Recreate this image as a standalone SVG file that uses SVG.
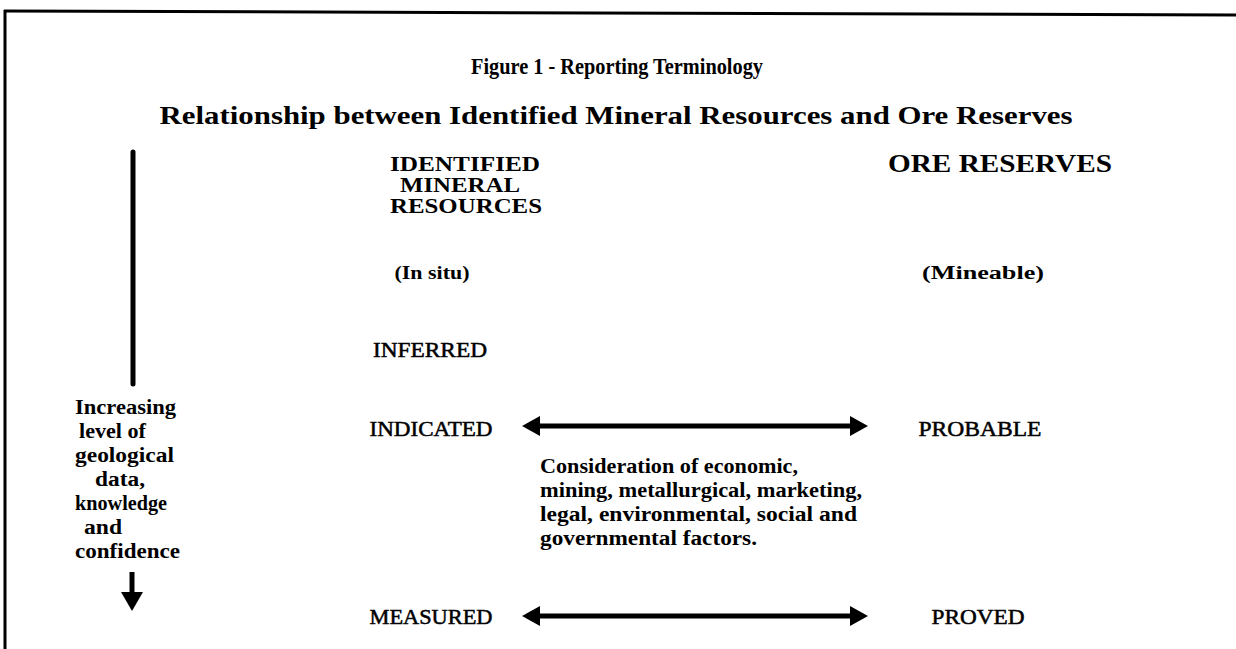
<svg xmlns="http://www.w3.org/2000/svg" width="1236" height="649" viewBox="0 0 1236 649">
<defs>
<style>
.hd{font-family:"Liberation Serif","Times New Roman",serif;font-weight:bold;fill:#000}
.t1{font-size:24px}
.t2{font-size:25px}
.col{font-size:22px}
.ore{font-size:25px}
.sub{font-size:18px}
.lvl{font-family:"Liberation Serif","Times New Roman",serif;font-size:21px;fill:#000;stroke:#000;stroke-width:0.5}
.note{font-family:"Liberation Serif","Times New Roman",serif;font-weight:bold;font-size:20px;fill:#000}
.conn{stroke:#000;stroke-width:5;fill:none}
</style>
<marker id="ah" viewBox="0 0 18 20" refX="10" refY="10" markerWidth="18" markerHeight="20" markerUnits="userSpaceOnUse" orient="auto-start-reverse">
<path d="M0,0 L18,10 L0,20 Z" fill="#000"/>
</marker>
<marker id="ahd" viewBox="0 0 19 22" refX="10" refY="11" markerWidth="19" markerHeight="22" markerUnits="userSpaceOnUse" orient="auto">
<path d="M0,0 L19,11 L0,22 Z" fill="#000"/>
</marker>
</defs>
<rect width="1236" height="649" fill="#fff"/>
<g id="frame">
<line x1="4" y1="11" x2="1236" y2="15" stroke="#000" stroke-width="3"/>
<line x1="5" y1="10" x2="5" y2="649" stroke="#000" stroke-width="3"/>
</g>
<g id="titles">
<text class="hd t1" x="617" y="74" text-anchor="middle" textLength="292" lengthAdjust="spacingAndGlyphs">Figure 1 - Reporting Terminology</text>
<text class="hd t2" x="616" y="124" text-anchor="middle" textLength="913" lengthAdjust="spacingAndGlyphs">Relationship between Identified Mineral Resources and Ore Reserves</text>
</g>
<g id="node-resources">
<text class="hd col" x="465" y="171" text-anchor="middle" textLength="150" lengthAdjust="spacingAndGlyphs">IDENTIFIED</text>
<text class="hd col" x="460" y="192" text-anchor="middle" textLength="120" lengthAdjust="spacingAndGlyphs">MINERAL</text>
<text class="hd col" x="466" y="213" text-anchor="middle" textLength="152" lengthAdjust="spacingAndGlyphs">RESOURCES</text>
<text class="hd sub" x="432" y="279" text-anchor="middle" textLength="75" lengthAdjust="spacingAndGlyphs">(In situ)</text>
</g>
<g id="node-reserves">
<text class="hd ore" x="1000" y="172" text-anchor="middle" textLength="224" lengthAdjust="spacingAndGlyphs">ORE RESERVES</text>
<text class="hd sub" x="983" y="279" text-anchor="middle" textLength="122" lengthAdjust="spacingAndGlyphs">(Mineable)</text>
</g>
<g id="node-inferred"><text class="lvl" x="430" y="357" text-anchor="middle" textLength="114" lengthAdjust="spacingAndGlyphs">INFERRED</text></g>
<g id="node-indicated"><text class="lvl" x="431" y="436" text-anchor="middle" textLength="123" lengthAdjust="spacingAndGlyphs">INDICATED</text></g>
<g id="node-measured"><text class="lvl" x="431" y="624" text-anchor="middle" textLength="123" lengthAdjust="spacingAndGlyphs">MEASURED</text></g>
<g id="node-probable"><text class="lvl" x="980" y="436" text-anchor="middle" textLength="123" lengthAdjust="spacingAndGlyphs">PROBABLE</text></g>
<g id="node-proved"><text class="lvl" x="978" y="624" text-anchor="middle" textLength="93" lengthAdjust="spacingAndGlyphs">PROVED</text></g>
<g id="node-confidence">
<text class="note" x="75" y="414" textLength="101" lengthAdjust="spacingAndGlyphs">Increasing</text>
<text class="note" x="79" y="438" textLength="67" lengthAdjust="spacingAndGlyphs">level of</text>
<text class="note" x="75" y="462" textLength="99" lengthAdjust="spacingAndGlyphs">geological</text>
<text class="note" x="95" y="486" textLength="50" lengthAdjust="spacingAndGlyphs">data,</text>
<text class="note" x="75" y="510" textLength="92" lengthAdjust="spacingAndGlyphs">knowledge</text>
<text class="note" x="84" y="534" textLength="38" lengthAdjust="spacingAndGlyphs">and</text>
<text class="note" x="75" y="558" textLength="105" lengthAdjust="spacingAndGlyphs">confidence</text>
</g>
<g id="node-factors">
<text class="note" x="540" y="473" textLength="258" lengthAdjust="spacingAndGlyphs">Consideration of economic,</text>
<text class="note" x="540" y="497" textLength="322" lengthAdjust="spacingAndGlyphs">mining, metallurgical, marketing,</text>
<text class="note" x="540" y="521" textLength="317" lengthAdjust="spacingAndGlyphs">legal, environmental, social and</text>
<text class="note" x="540" y="545" textLength="217" lengthAdjust="spacingAndGlyphs">governmental factors.</text>
</g>
<g id="connectors">
<line class="conn" x1="133" y1="152" x2="133" y2="384" stroke-width="6" stroke-linecap="round"/>
<line class="conn" x1="132" y1="572" x2="132" y2="602" stroke-width="6" marker-end="url(#ahd)"/>
<line class="conn" x1="530" y1="426" x2="860" y2="426" marker-start="url(#ah)" marker-end="url(#ah)"/>
<line class="conn" x1="530" y1="616" x2="860" y2="616" marker-start="url(#ah)" marker-end="url(#ah)"/>
</g>
</svg>
